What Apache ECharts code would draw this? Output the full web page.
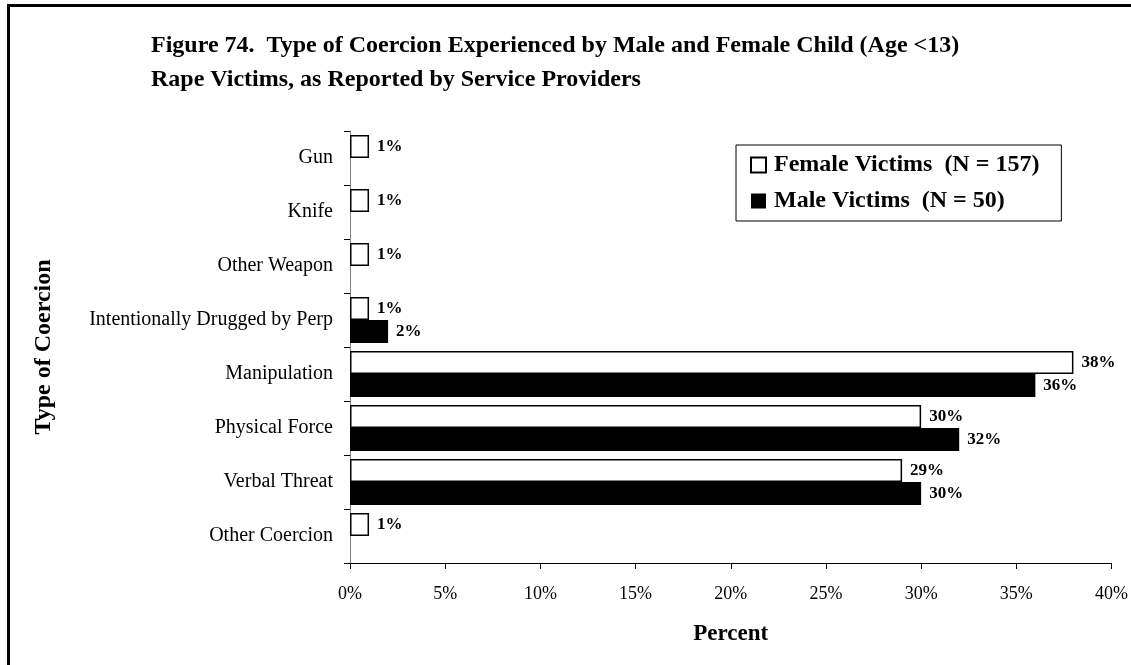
<!DOCTYPE html>
<html>
<head>
<meta charset="utf-8">
<script src="https://cdn.jsdelivr.net/npm/echarts@6/dist/echarts.min.js"></script>
<style>
  html, body { margin: 0; padding: 0; background: #fff; }
  #frame {
    position: absolute; left: 7px; top: 4px; width: 1124px; height: 661px;
    border-left: 3px solid #000; border-top: 3px solid #000; box-sizing: border-box;
  }
  #chart { position: absolute; left: 0; top: 0; width: 1131px; height: 665px; }
</style>
</head>
<body>
<div id="frame"></div>
<div id="chart"></div>
<script>
const categories = [
  "Gun",
  "Knife",
  "Other Weapon",
  "Intentionally Drugged by Perp",
  "Manipulation",
  "Physical Force",
  "Verbal Threat",
  "Other Coercion",
];
const femaleValues = [1, 1, 1, 1, 38, 30, 29, 1];
const maleValues   = [0, 0, 0, 2, 36, 32, 30, 0];
const seriesNames  = ["Female Victims  (N = 157)", "Male Victims  (N = 50)"];

const serif = "'Liberation Serif', 'Times New Roman', serif";

let chart = echarts.init(document.getElementById("chart"));

function barLabel() {
  return {
    show: true,
    position: "right",
    distance: 8,
    fontFamily: serif,
    fontWeight: "bold",
    fontSize: 17,
    color: "#000",
    formatter: (p) => (p.value > 0 ? p.value + "%" : ""),
  };
}

chart.setOption({
  animation: false,
  title: {
    text: "Figure 74.  Type of Coercion Experienced by Male and Female Child (Age <13)\nRape Victims, as Reported by Service Providers",
    left: 146,
    top: 24,
    textStyle: {
      fontFamily: serif,
      fontWeight: "bold",
      fontSize: 24,
      lineHeight: 34,
      color: "#000",
    },
  },
  legend: {
    orient: "vertical",
    left: 736,
    top: 145,
    padding: [8, 22, 8, 14],
    itemGap: 12,
    itemWidth: 15,
    itemHeight: 15,
    icon: "rect",
    borderColor: "#000",
    borderWidth: 1,
    backgroundColor: "#fff",
    textStyle: {
      fontFamily: serif,
      fontWeight: "bold",
      fontSize: 24,
      color: "#000",
      padding: [0, 0, 0, 3],
    },
    data: seriesNames,
  },
  grid: {
    left: 350,
    right: 13,
    top: 131,
    bottom: 102,
  },
  xAxis: {
    type: "value",
    min: 0,
    max: 40,
    interval: 5,
    name: "Percent",
    nameLocation: "middle",
    nameGap: 60,
    nameTextStyle: {
      fontFamily: serif,
      fontWeight: "bold",
      fontSize: 23,
      color: "#000",
    },
    axisLine: { show: true, lineStyle: { color: "#000", width: 1 } },
    axisTick: { show: true, length: 6, lineStyle: { color: "#000" } },
    splitLine: { show: false },
    axisLabel: {
      formatter: "{value}%",
      margin: 22,
      fontFamily: serif,
      fontSize: 18,
      color: "#000",
    },
  },
  yAxis: {
    type: "category",
    inverse: true,
    data: categories,
    name: "Type of Coercion",
    nameLocation: "middle",
    nameRotate: 90,
    nameGap: 294,
    nameTextStyle: {
      fontFamily: serif,
      fontWeight: "bold",
      fontSize: 24,
      color: "#000",
    },
    axisLine: { show: true, lineStyle: { color: "#808080", width: 1 } },
    axisTick: { show: true, length: 6, lineStyle: { color: "#000" } },
    axisLabel: {
      margin: 17,
      fontFamily: serif,
      fontSize: 20,
      color: "#000",
    },
  },
  series: [
    {
      name: seriesNames[0],
      type: "bar",
      data: femaleValues,
      barGap: "0%",
      barCategoryGap: "15%",
      itemStyle: { color: "#fff", borderColor: "#000", borderWidth: 1.5 },
      label: barLabel(),
    },
    {
      name: seriesNames[1],
      type: "bar",
      data: maleValues,
      itemStyle: { color: "#000" },
      label: barLabel(),
    },
  ],
});
</script>
</body>
</html>
